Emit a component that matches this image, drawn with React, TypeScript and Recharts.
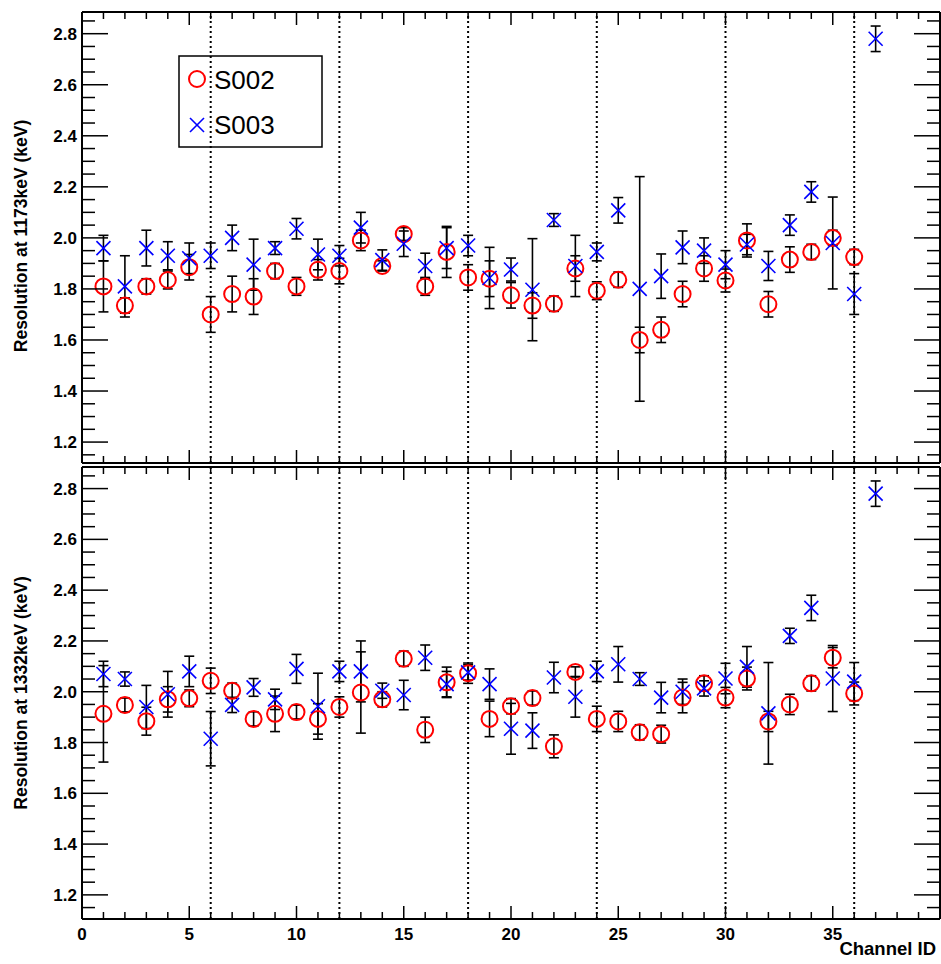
import React from "react";
import { ScatterChart, Scatter, XAxis, YAxis, ErrorBar, ReferenceLine } from "recharts";

const FONT = "'Liberation Sans', Arial, Helvetica, sans-serif";

// channel numbers on the x axis
const channels = [
  1, 2, 3, 4, 5, 6, 7, 8, 9, 10, 11, 12, 13, 14, 15, 16, 17, 18, 19,
  20, 21, 22, 23, 24, 25, 26, 27, 28, 29, 30, 31, 32, 33, 34, 35, 36, 37,
];

// resolution at 1173 keV
const s002Top = [
  1.81, 1.735, 1.81, 1.835, 1.885, 1.7, 1.78, 1.77, 1.87, 1.81, 1.875, 1.87,
  1.99, 1.89, 2.015, 1.81, 1.945, 1.845, 1.84, 1.775, 1.735, 1.742, 1.88,
  1.793, 1.836, 1.6, 1.64, 1.78, 1.88, 1.833, 1.99, 1.74, 1.915, 1.945, 2.0,
  1.925,
];
const s002TopErr = [
  0.1, 0.03, 0.03, 0.035, 0.05, 0.07, 0.07, 0.07, 0.03, 0.035, 0.04, 0.05,
  0.04, 0.02, 0.025, 0.035, 0.1, 0.05, 0.07, 0.05, 0.05, 0.03, 0.05, 0.035,
  0.03, 0.05, 0.05, 0.05, 0.05, 0.045, 0.065, 0.05, 0.05, 0.03, 0.03, 0.03,
];
const s003Top = [
  1.96, 1.81, 1.96, 1.93, 1.92, 1.93, 2.0, 1.895, 1.96, 2.036, 1.935, 1.93,
  2.04, 1.913, 1.977, 1.89, 1.96, 1.97, 1.843, 1.876, 1.797, 2.07, 1.89,
  1.945, 2.108, 1.8, 1.85, 1.963, 1.95, 1.895, 1.974, 1.89, 2.05, 2.18, 1.98,
  1.78, 2.78,
];
const s003TopErr = [
  0.05, 0.12, 0.07, 0.055, 0.06, 0.05, 0.05, 0.1, 0.025, 0.04, 0.06, 0.04,
  0.06, 0.04, 0.05, 0.05, 0.08, 0.04, 0.12, 0.045, 0.2, 0.025, 0.12, 0.035,
  0.05, 0.44, 0.087, 0.064, 0.05, 0.055, 0.04, 0.057, 0.04, 0.04, 0.18, 0.08,
  0.05,
];

// resolution at 1332 keV
const s002Bot = [
  1.913, 1.948, 1.884, 1.97, 1.974, 2.043, 2.004, 1.893, 1.913, 1.92, 1.893,
  1.94, 1.997, 1.97, 2.13, 1.85, 2.037, 2.073, 1.893, 1.943, 1.975, 1.785,
  2.078, 1.893, 1.883, 1.84, 1.833, 1.977, 2.033, 1.977, 2.052, 1.883, 1.95,
  2.033, 2.134, 1.993,
];
const s002BotErr = [
  0.19, 0.027, 0.055, 0.05, 0.033, 0.05, 0.03, 0.028, 0.07, 0.027, 0.06, 0.04,
  0.16, 0.03, 0.03, 0.05, 0.06, 0.04, 0.07, 0.03, 0.028, 0.045, 0.02, 0.05,
  0.04, 0.03, 0.035, 0.06, 0.03, 0.04, 0.045, 0.04, 0.04, 0.03, 0.04, 0.045,
];
const s003Bot = [
  2.07, 2.05, 1.94, 1.99, 2.08, 1.815, 1.948, 2.017, 1.97, 2.09, 1.943, 2.08,
  2.08, 2.004, 1.987, 2.134, 2.03, 2.076, 2.03, 1.854, 1.847, 2.056, 1.98,
  2.08, 2.108, 2.05, 1.977, 2.0, 2.013, 2.052, 2.098, 1.915, 2.22, 2.33,
  2.052, 2.04, 2.78,
];
const s003BotErr = [
  0.05, 0.028, 0.085, 0.09, 0.06, 0.107, 0.03, 0.035, 0.04, 0.057, 0.13, 0.04,
  0.12, 0.03, 0.058, 0.05, 0.05, 0.03, 0.06, 0.1, 0.07, 0.06, 0.08, 0.04,
  0.07, 0.025, 0.06, 0.05, 0.03, 0.06, 0.08, 0.2, 0.03, 0.05, 0.13, 0.075,
  0.05,
];

const xLabels = [0, 5, 10, 15, 20, 25, 30, 35];
const yLabels = [1.2, 1.4, 1.6, 1.8, 2.0, 2.2, 2.4, 2.6, 2.8];
const dividers = [6, 12, 18, 24, 30, 36];

const X_MAX = 40;
const PLOT_W = 858;
const xTicks = Array.from({ length: 41 }, (_, i) => i);
const yTicks = Array.from({ length: 35 }, (_, i) => Math.round((1.15 + i * 0.05) * 100) / 100);

type Pt = { ch: number; v: number; e: number };
const toPoints = (vals: number[], errs: number[]): Pt[] =>
  vals.map((v, i) => ({ ch: channels[i], v, e: errs[i] }));

const isMajorY = (v: number) => yLabels.some((l) => Math.abs(l - v) < 1e-6);
const xTickLen = (c: number) => (c % 5 === 0 ? 13 : 7);
const yTickLen = (v: number) => (isMajorY(v) ? 26 : 13);

function XTick(props: any) {
  const { x, y, payload } = props;
  const v = payload.value;
  return (
    <g>
      <line x1={x} y1={y} x2={x} y2={y - xTickLen(v)} stroke="#000" strokeWidth={1.5} />
      {xLabels.includes(v) && (
        <text x={x} y={y + 21} textAnchor="middle" fontFamily={FONT} fontWeight="bold" fontSize={17} fill="#000">
          {v}
        </text>
      )}
    </g>
  );
}

function YTick(props: any) {
  const { x, y, payload } = props;
  const v = payload.value;
  return (
    <g>
      <line x1={x} y1={y} x2={x + yTickLen(v)} y2={y} stroke="#000" strokeWidth={1.5} />
      {isMajorY(v) && (
        <text x={x - 5} y={y + 6} textAnchor="end" fontFamily={FONT} fontWeight="bold" fontSize={17} fill="#000">
          {v.toFixed(1)}
        </text>
      )}
    </g>
  );
}

const RedCircle = (p: any) => (
  <circle cx={p.cx} cy={p.cy} r={8} fill="none" stroke="#ff0000" strokeWidth={2} />
);

const BlueCross = (p: any) => (
  <g stroke="#0000ff" strokeWidth={1.6}>
    <line x1={p.cx - 7} y1={p.cy - 7} x2={p.cx + 7} y2={p.cy + 7} />
    <line x1={p.cx - 7} y1={p.cy + 7} x2={p.cx + 7} y2={p.cy - 7} />
  </g>
);

// tick marks on the unlabelled frame edges
const tickStyle = { stroke: "#000", strokeWidth: 1.5, ifOverflow: "visible" as const };

function Panel(props: {
  s002: Pt[];
  s003: Pt[];
  yDomain: [number, number];
  height: number;
  marginTop: number;
  plotH: number;
  labelled: boolean;
}) {
  const { s002, s003, yDomain, height, marginTop, plotH, labelled } = props;
  const [yMin, yMax] = yDomain;
  const perY = plotH / (yMax - yMin); // px per keV
  const perX = PLOT_W / X_MAX; // px per channel
  return (
    <ScatterChart width={941} height={height} margin={{ top: marginTop, right: 0, bottom: 0, left: 0 }}>
      <XAxis
        type="number"
        dataKey="ch"
        domain={[0, X_MAX]}
        ticks={xTicks}
        interval={0}
        height={45}
        tickSize={0}
        tickMargin={0}
        tickLine={false}
        axisLine={{ stroke: "#000", strokeWidth: 2 }}
        tick={labelled ? (p: any) => <XTick {...p} /> : false}
      />
      <XAxis
        xAxisId="top"
        orientation="top"
        type="number"
        domain={[0, X_MAX]}
        height={1}
        tick={false}
        tickLine={false}
        axisLine={{ stroke: "#000", strokeWidth: 2 }}
      />
      <YAxis
        type="number"
        dataKey="v"
        domain={yDomain}
        allowDataOverflow
        ticks={yTicks}
        interval={0}
        width={82}
        tickSize={0}
        tickMargin={0}
        tickLine={false}
        axisLine={{ stroke: "#000", strokeWidth: 2 }}
        tick={(p: any) => <YTick {...p} />}
      />
      <YAxis
        yAxisId="right"
        orientation="right"
        type="number"
        domain={yDomain}
        width={1}
        tick={false}
        tickLine={false}
        axisLine={{ stroke: "#000", strokeWidth: 2 }}
      />
      {dividers.map((d) => (
        <ReferenceLine key={`d${d}`} x={d} stroke="#000" strokeWidth={2} strokeDasharray="2 3" />
      ))}
      {xTicks.map((c) => (
        <ReferenceLine
          key={`t${c}`}
          segment={[{ x: c, y: yMax }, { x: c, y: yMax - xTickLen(c) / perY }]}
          {...tickStyle}
        />
      ))}
      {!labelled &&
        xTicks.map((c) => (
          <ReferenceLine
            key={`b${c}`}
            segment={[{ x: c, y: yMin }, { x: c, y: yMin + xTickLen(c) / perY }]}
            {...tickStyle}
          />
        ))}
      {yTicks.map((v) => (
        <ReferenceLine
          key={`r${v}`}
          segment={[{ x: X_MAX, y: v }, { x: X_MAX - yTickLen(v) / perX, y: v }]}
          {...tickStyle}
        />
      ))}
      <Scatter name="S002" data={s002} isAnimationActive={false} shape={RedCircle}>
        <ErrorBar dataKey="e" direction="y" stroke="#000" strokeWidth={1.6} width={5} isAnimationActive={false} />
      </Scatter>
      <Scatter name="S003" data={s003} isAnimationActive={false} shape={BlueCross}>
        <ErrorBar dataKey="e" direction="y" stroke="#000" strokeWidth={1.6} width={5} isAnimationActive={false} />
      </Scatter>
    </ScatterChart>
  );
}

export default function App() {
  return (
    <div style={{ position: "absolute", left: 0, top: 0, width: 941, height: 964, background: "#fff" }}>
      <div style={{ position: "absolute", left: 0, top: 0 }}>
        <Panel
          s002={toPoints(s002Top, s002TopErr)}
          s003={toPoints(s003Top, s003TopErr)}
          yDomain={[1.118, 2.885]}
          height={508}
          marginTop={11}
          plotH={451}
          labelled={false}
        />
      </div>
      <div style={{ position: "absolute", left: 0, top: 466 }}>
        <Panel
          s002={toPoints(s002Bot, s002BotErr)}
          s003={toPoints(s003Bot, s003BotErr)}
          yDomain={[1.105, 2.885]}
          height={498}
          marginTop={0}
          plotH={452}
          labelled={true}
        />
      </div>
      <svg
        width={941}
        height={964}
        style={{ position: "absolute", left: 0, top: 0, pointerEvents: "none" }}
        fontFamily={FONT}
      >
        <text transform="translate(21,236) rotate(-90)" textAnchor="middle" dominantBaseline="central" fontWeight="bold" fontSize={17.5}>
          Resolution at 1173keV (keV)
        </text>
        <text transform="translate(21,693) rotate(-90)" textAnchor="middle" dominantBaseline="central" fontWeight="bold" fontSize={17.5}>
          Resolution at 1332keV (keV)
        </text>
        <text x={936} y={955} textAnchor="end" fontWeight="bold" fontSize={18.5}>
          Channel ID
        </text>
        <rect x={179} y={56} width={143} height={91} fill="none" stroke="#000" strokeWidth={1.5} />
        <circle cx={197} cy={79} r={8} fill="none" stroke="#ff0000" strokeWidth={2} />
        <g stroke="#0000ff" strokeWidth={1.6}>
          <line x1={190} y1={118} x2={204} y2={132} />
          <line x1={190} y1={132} x2={204} y2={118} />
        </g>
        <text x={214} y={89} fontSize={26}>S002</text>
        <text x={214} y={134} fontSize={26}>S003</text>
      </svg>
    </div>
  );
}
